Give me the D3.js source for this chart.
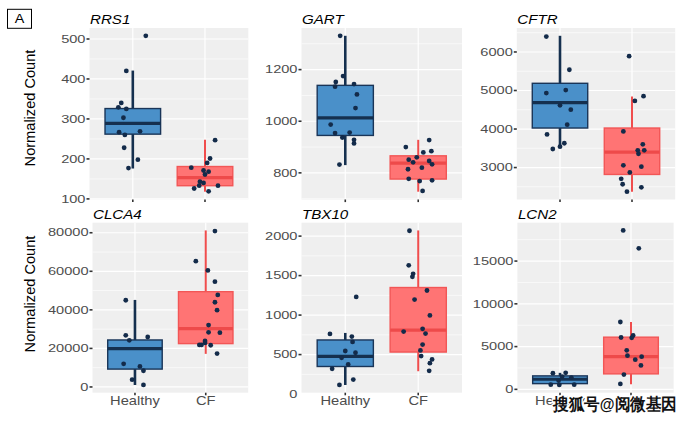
<!DOCTYPE html>
<html><head><meta charset="utf-8">
<script src="https://cdn.jsdelivr.net/npm/d3@7"></script>
<style>
body{margin:0;background:#fff}
svg{display:block}
text{font-family:"Liberation Sans",Arial,Helvetica,sans-serif}
</style>
</head><body>
<svg id="c" width="694" height="421"></svg>
<script>
// ---------------- DATA ----------------
const groups = ["Healthy", "CF"];
const genes = ["RRS1", "GART", "CFTR", "CLCA4", "TBX10", "LCN2"];

// box stats: [lower whisker, Q1, median, Q3, upper whisker]
const rrs1Healthy = [508,420,340,329,325,303,267,269,260,228,198,177];
const rrs1HealthyJitter = [0.18,-0.09,-0.16,-0.20,-0.09,-0.13,-0.19,0.10,-0.11,-0.12,0.07,-0.06];
const rrs1CF = [247,201,190,178,171,168,161,143,140,133,133,126,119];
const rrs1CFJitter = [0.14,0.07,0.03,-0.19,-0.02,0.05,0,-0.07,-0.02,-0.08,0.18,-0.15,0.05];
const rrs1HealthyBox = [176,262,289,326,421];
const rrs1CFBox = [118,133,153,181,248];
const rrs1Ticks = [100,200,300,400,500];

const gartHealthy = [1331,1175,1152,1144,1134,1104,1051,987,954,956,937,928,914,832];
const gartHealthyJitter = [-0.07,-0.03,-0.13,0.12,-0.14,0.16,0.14,-0.20,-0.14,0.06,-0.04,0.12,0.12,-0.08];
const gartCF = [927,900,884,879,860,851,841,846,833,820,814,777,768,771,730];
const gartCFJitter = [0.15,-0.17,0.18,0.07,-0.02,-0.13,-0.07,0.15,0.19,0.05,-0.14,-0.13,0.02,0.19,0.06];
const gartHealthyBox = [830,945,1013,1139,1331];
const gartCFBox = [727,776,838,866,928];
const gartTicks = [800,1000,1200];

const cftrHealthy = [6400,5539,4932,5011,4616,4501,4114,3859,3631,3543,3481];
const cftrHealthyJitter = [-0.19,0.13,-0.19,0.08,0,0.15,0.10,-0.18,0.06,0,-0.10];
const cftrCF = [5891,4853,4730,3938,3604,3446,3446,3358,3059,3024,2874,2707,2566,2487,2373];
const cftrCFJitter = [-0.04,0.16,0.04,-0.12,0.15,0.08,0.17,0.09,-0.12,0.13,-0.03,-0.15,-0.13,0.13,-0.07];
const cftrHealthyBox = [3525,4026,4686,5187,6420];
const cftrCFBox = [2373,2821,3402,4026,4844];
const cftrTicks = [3000,4000,5000,6000];

const clca4Healthy = [44979,26781,24206,25923,12017,10644,8412,3777,1030];
const clca4HealthyJitter = [-0.13,-0.13,-0.08,0.18,-0.16,0.07,0.12,-0.04,0.12];
const clca4CF = [80858,65236,60429,54592,47725,43948,39828,32103,28326,28155,23863,22833,21803,21803,21631,17339];
const clca4CFJitter = [0.13,-0.14,0.03,0.13,0.17,0.13,0.16,0.04,0.04,0.20,-0.01,-0.01,-0.09,-0.06,0.07,0.16];
const clca4HealthyBox = [1030,9270,19914,24378,45150];
const clca4CFBox = [17167,22489,30215,49442,81202];
const clca4Ticks = [0,20000,40000,60000,80000];

const tbx10Healthy = [1230,762,728,660,545,523,460,374,319,183,115];
const tbx10HealthyJitter = [0.15,-0.21,0.09,0.10,0,0.14,-0.05,0.04,-0.18,0.11,-0.08];
const tbx10CF = [2068,1630,1523,1485,1311,1196,996,791,826,766,626,553,481,438,391,294];
const tbx10CFJitter = [-0.12,-0.13,-0.07,-0.08,0.12,-0.05,0.16,-0.20,0.06,0.10,0.06,0.03,0.04,0.19,0.16,0.15];
const tbx10HealthyBox = [115,349,477,685,774];
const tbx10CFBox = [289,532,809,1349,2072];
const tbx10Ticks = [0,500,1000,1500,2000];

const lcn2Healthy = [1890,1929,1496,1378,1024,551,512,551];
const lcn2HealthyJitter = [-0.10,0.08,0.03,0.16,-0.02,-0.13,-0.01,0.20];
const lcn2CF = [18583,16496,7874,6063,6299,6024,4567,3937,3819,3465,2795,1732,630];
const lcn2CFJitter = [-0.11,0.11,-0.15,-0.14,0.03,0.01,-0.06,-0.05,0.15,0.06,0.14,-0.10,-0.15];
const lcn2HealthyBox = [512,669,1181,1575,1929];
const lcn2CFBox = [591,1811,3819,6102,7874];
const lcn2Ticks = [0,5000,10000,15000];

const yTitle = "Normalized Count";
const panelTag = "A";
const watermark = "搜狐号@阅微基因";

// ---------------- BUILD ----------------
const panels = [
  {gene:genes[0], hv:rrs1Healthy, hj:rrs1HealthyJitter, cv:rrs1CF, cj:rrs1CFJitter, hb:rrs1HealthyBox, cb:rrs1CFBox, ticks:rrs1Ticks},
  {gene:genes[1], hv:gartHealthy, hj:gartHealthyJitter, cv:gartCF, cj:gartCFJitter, hb:gartHealthyBox, cb:gartCFBox, ticks:gartTicks},
  {gene:genes[2], hv:cftrHealthy, hj:cftrHealthyJitter, cv:cftrCF, cj:cftrCFJitter, hb:cftrHealthyBox, cb:cftrCFBox, ticks:cftrTicks},
  {gene:genes[3], hv:clca4Healthy, hj:clca4HealthyJitter, cv:clca4CF, cj:clca4CFJitter, hb:clca4HealthyBox, cb:clca4CFBox, ticks:clca4Ticks},
  {gene:genes[4], hv:tbx10Healthy, hj:tbx10HealthyJitter, cv:tbx10CF, cj:tbx10CFJitter, hb:tbx10HealthyBox, cb:tbx10CFBox, ticks:tbx10Ticks},
  {gene:genes[5], hv:lcn2Healthy, hj:lcn2HealthyJitter, cv:lcn2CF, cj:lcn2CFJitter, hb:lcn2HealthyBox, cb:lcn2CFBox, ticks:lcn2Ticks}
];

const layout = [
  {x:[89.5,248.3], y:[199.5,28],  xlab:false},
  {x:[301.5,462],  y:[199.5,28],  xlab:false},
  {x:[516.8,675.2],y:[199.5,28],  xlab:false},
  {x:[92.5,248.2], y:[392.7,222.7], xlab:true},
  {x:[301.5,462],  y:[392.7,222.7], xlab:true},
  {x:[517.4,673.6],y:[392.7,222.7], xlab:true}
];

const style = {
  Healthy:{fill:"#4A90C9", stroke:"#1A3558", median:"#15304F", whisker:"#15304F", wW:2.6},
  CF:{fill:"#FF7474", stroke:"#F25656", median:"#EE4A4A", whisker:"#F04D4D", wW:2.0}
};

const svg = d3.select("#c");
const fmt = d3.format("d");

function stretched(sel, x, y, sx){
  return sel.attr("transform", `translate(${x},${y}) scale(${sx},1)`);
}

panels.forEach((p, i) => {
  const L = layout[i];
  const g = svg.append("g");
  const all = [...p.hv, ...p.cv, ...p.hb, ...p.cb];
  const [mn, mx] = d3.extent(all);
  const pad = (mx - mn) * 0.05;
  const y = d3.scaleLinear().domain([mn - pad, mx + pad]).range(L.y);
  const x = d3.scalePoint().domain(groups).range(L.x).padding(0.6);
  const step = x.step();
  const [d0, d1] = y.domain();
  const left = L.x[0], right = L.x[1], top = L.y[1], bottom = L.y[0];

  g.append("rect").attr("x", left).attr("y", top)
    .attr("width", right - left).attr("height", bottom - top).attr("fill", "#EFEFEF");

  const tstep = p.ticks[1] - p.ticks[0];
  const minors = [p.ticks[0] - tstep/2, ...p.ticks.map(t => t + tstep/2)]
    .filter(v => v >= d0 && v <= d1);
  g.selectAll(".mi").data(minors).join("line")
    .attr("x1", left).attr("x2", right)
    .attr("y1", d => y(d)).attr("y2", d => y(d))
    .attr("stroke", "#fff").attr("stroke-width", 0.6);
  const majorsIn = p.ticks.filter(v => v >= d0 && v <= d1);
  g.selectAll(".ma").data(majorsIn).join("line")
    .attr("x1", left).attr("x2", right)
    .attr("y1", d => y(d)).attr("y2", d => y(d))
    .attr("stroke", "#fff").attr("stroke-width", 1.2);
  g.selectAll(".vx").data(groups).join("line")
    .attr("x1", d => x(d)).attr("x2", d => x(d))
    .attr("y1", top).attr("y2", bottom)
    .attr("stroke", "#fff").attr("stroke-width", 1.2);

  // y ticks + labels
  const tol = (d1 - d0) * 0.012;
  const labTicks = p.ticks.filter(v => v >= d0 - tol && v <= d1 + tol);
  g.selectAll(".tm").data(majorsIn).join("line")
    .attr("x1", left - 3).attr("x2", left)
    .attr("y1", d => y(d)).attr("y2", d => y(d))
    .attr("stroke", "#333").attr("stroke-width", 1.6);
  labTicks.forEach(t => {
    const yy = Math.min(y(t), bottom + 1.2);
    stretched(g.append("text"), left - 4, yy + 3.7, 1.42)
      .attr("text-anchor", "end").attr("font-size", 10.3)
      .attr("fill", "#4D4D4D").text(fmt(t));
  });

  // x ticks
  g.selectAll(".xt").data(groups).join("line")
    .attr("x1", d => x(d)).attr("x2", d => x(d))
    .attr("y1", bottom).attr("y2", bottom + 2.6)
    .attr("stroke", "#333").attr("stroke-width", 1.6);
  if (L.xlab) {
    groups.forEach(gr => {
      stretched(g.append("text"), x(gr), bottom + 12.5, 1.13)
        .attr("text-anchor", "middle").attr("font-size", 13)
        .attr("fill", "#4D4D4D").text(gr);
    });
  }

  // title
  stretched(g.append("text"), left + 0.5, top - 3.6, 1.12)
    .attr("font-size", 13.5).attr("font-style", "italic")
    .attr("fill", "#000").text(p.gene);

  // boxes
  const boxes = [{gr:"Healthy", b:p.hb}, {gr:"CF", b:p.cb}];
  const bw = step * 0.77;
  boxes.forEach(({gr, b}) => {
    const s = style[gr];
    const cx = x(gr);
    g.append("line").attr("x1", cx).attr("x2", cx)
      .attr("y1", y(b[0])).attr("y2", y(b[4]))
      .attr("stroke", s.whisker).attr("stroke-width", s.wW);
    g.append("rect").attr("x", cx - bw/2).attr("width", bw)
      .attr("y", y(b[3])).attr("height", y(b[1]) - y(b[3]))
      .attr("fill", s.fill).attr("stroke", s.stroke).attr("stroke-width", 1.4);
    g.append("line").attr("x1", cx - bw/2).attr("x2", cx + bw/2)
      .attr("y1", y(b[2])).attr("y2", y(b[2]))
      .attr("stroke", s.median).attr("stroke-width", 3.2);
  });

  // points
  const pts = [
    ...p.hv.map((v, k) => ({gr:"Healthy", v, j:p.hj[k]})),
    ...p.cv.map((v, k) => ({gr:"CF", v, j:p.cj[k]}))
  ];
  g.selectAll(".pt").data(pts).join("circle")
    .attr("cx", d => x(d.gr) + d.j * step)
    .attr("cy", d => y(d.v))
    .attr("r", 2.4).attr("fill", "#132B4A");
});

// y axis titles
[[35, 108], [35, 294]].forEach(([xx, yy]) => {
  svg.append("text")
    .attr("transform", `translate(${xx},${yy}) rotate(-90)`)
    .attr("text-anchor", "middle").attr("font-size", 14.6)
    .attr("fill", "#000").text(yTitle);
});

// panel tag
svg.append("rect").attr("x", 7.5).attr("y", 9.3).attr("width", 24).attr("height", 19)
  .attr("fill", "#fff").attr("stroke", "#000").attr("stroke-width", 1);
stretched(svg.append("text"), 19.5, 23.2, 1.15)
  .attr("text-anchor", "middle").attr("font-size", 12.5).attr("fill", "#000").text(panelTag);

// watermark
svg.append("text").attr("x", 553).attr("y", 410)
  .attr("font-family", "'Noto Sans CJK SC', sans-serif")
  .attr("font-size", 16.5).attr("font-weight", "bold")
  .attr("textLength", 124).attr("lengthAdjust", "spacingAndGlyphs")
  .attr("fill", "#111").attr("stroke", "#fff").attr("stroke-width", 3)
  .attr("paint-order", "stroke").attr("stroke-linejoin", "round")
  .text(watermark);
</script>
</body></html>
